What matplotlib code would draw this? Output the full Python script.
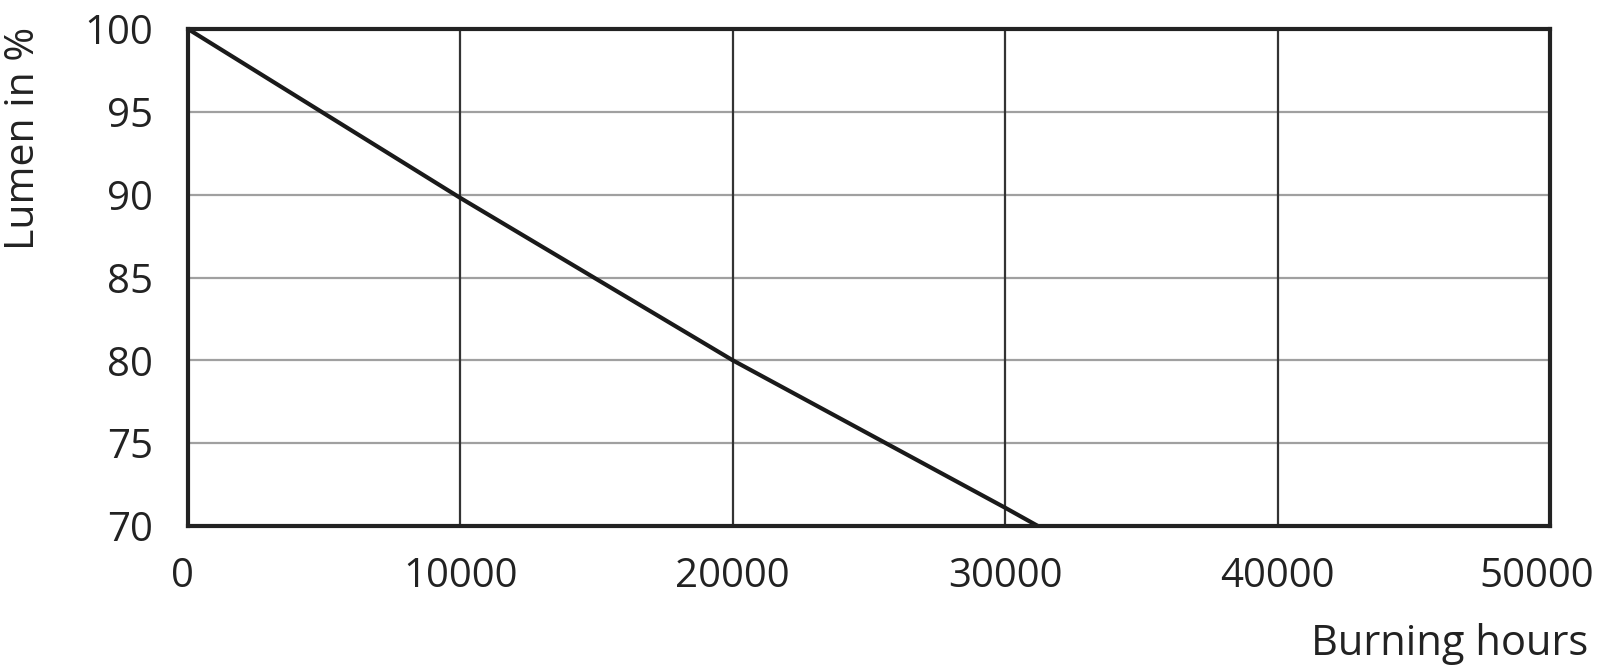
import matplotlib.pyplot as plt
from matplotlib.transforms import ScaledTranslation

# lumen maintenance curve
hours = [0, 10000, 20000, 30000, 31200]
lumen = [100, 89.8, 80, 71.1, 70]

x_ticks = [0, 10000, 20000, 30000, 40000, 50000]
y_ticks = [70, 75, 80, 85, 90, 95, 100]

plt.rcParams['font.family'] = ['Open Sans', 'DejaVu Sans']

fig = plt.figure(figsize=(16, 6.67), dpi=100)
ax = fig.add_axes([188/1600, 1-526/667, (1550-188)/1600, (526-29)/667])

for yv in y_ticks[1:-1]:
    ax.axhline(yv, color='#a0a0a0', lw=1.6, zorder=1)
for xv in x_ticks[1:-1]:
    ax.axvline(xv, color='#333333', lw=1.6, zorder=1)

ax.plot(hours, lumen, color='#1a1a1a', lw=3, zorder=3, solid_capstyle='butt')

ax.set_xlim(0, 50000)
ax.set_ylim(70, 100)
ax.set_xticks(x_ticks)
ax.set_yticks(y_ticks)
ax.tick_params(length=0, labelsize=29, colors='#222222')
ax.tick_params(axis='x', pad=22)
ax.tick_params(axis='y', pad=25)
for s in ax.spines.values():
    s.set_linewidth(3)
    s.set_color('#222222')
    s.set_zorder(4)

# end labels are nudged left in the original
xlabels = ax.get_xticklabels()
xlabels[0].set_transform(xlabels[0].get_transform() + ScaledTranslation(-0.06, 0, fig.dpi_scale_trans))
xlabels[-1].set_transform(xlabels[-1].get_transform() + ScaledTranslation(-0.13, 0, fig.dpi_scale_trans))

fig.text(1588/1600, 1-655/667, 'Burning hours', fontsize=30, color='#222222',
         ha='right', va='baseline')
fig.text(24/1600, 1-138/667, 'Lumen in %', fontsize=29.5, color='#222222',
         ha='center', va='center', rotation=90)

fig.savefig('out.png', dpi=100)
